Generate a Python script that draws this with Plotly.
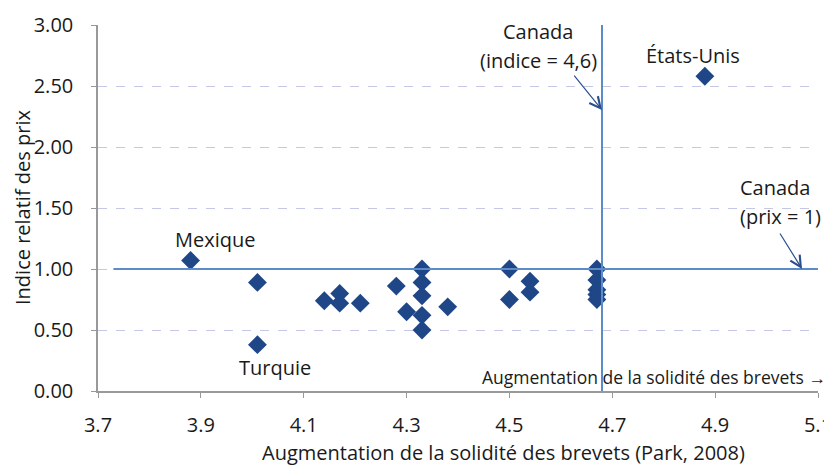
import plotly.graph_objects as go

# Data: patent strength (Park, 2008) vs relative price index
patent_strength = [3.88, 4.01, 4.01, 4.14, 4.17, 4.17, 4.21, 4.28, 4.30,
                   4.33, 4.33, 4.33, 4.33, 4.33, 4.38,
                   4.50, 4.50, 4.54, 4.54,
                   4.67, 4.67, 4.67, 4.67, 4.67, 4.88]
price_index = [1.07, 0.89, 0.38, 0.74, 0.80, 0.72, 0.72, 0.86, 0.65,
               1.00, 0.89, 0.78, 0.62, 0.50, 0.69,
               1.00, 0.75, 0.90, 0.81,
               1.00, 0.91, 0.83, 0.79, 0.75, 2.58]

canada_index = 4.68
canada_price = 1.0
x_ticks = [3.7, 3.9, 4.1, 4.3, 4.5, 4.7, 4.9, 5.1]
y_ticks = [0.0, 0.5, 1.0, 1.5, 2.0, 2.5, 3.0]
x_range = [3.7, 5.1]

FONT = "Open Sans"
TXT = "#1a1a1a"
LINE = "#5b8bc9"
MARK = "#1f4788"
AXC = "#999999"

# layout geometry (figure pixels)
W, H = 824, 460
L, R, T, B = 90, 14, 17, 57
PLOT_BOTTOM = 383          # y of the x axis line
AREA_H = H - T - B         # paper height
ydom0 = (H - B - PLOT_BOTTOM) / AREA_H

def py(fy):  # figure pixel y -> paper y
    return (H - B - fy) / AREA_H

def px(fx):  # figure pixel x -> paper x
    return (fx - L) / (W - L - R)

fig = go.Figure()
fig.add_trace(go.Scatter(
    x=patent_strength, y=price_index, mode="markers",
    marker=dict(symbol="diamond", size=14.5, color=MARK),
    showlegend=False, hoverinfo="x+y"))
# invisible trace carrying the label axis
fig.add_trace(go.Scatter(x=x_range, y=[0, 0], xaxis="x2", mode="markers",
                         marker=dict(opacity=0), showlegend=False, hoverinfo="skip"))

# Canada reference lines
fig.add_shape(type="line", x0=canada_index, x1=canada_index, y0=0, y1=3,
              line=dict(color=LINE, width=2))
fig.add_shape(type="line", x0=3.73, x1=5.1, y0=canada_price, y1=canada_price,
              line=dict(color=LINE, width=2))

ann = []
def txt(x, y, s, size=20, xanchor="center", ref="data", angle=0):
    d = dict(x=x, y=y, text=s, showarrow=False, xanchor=xanchor,
             yanchor="middle", textangle=angle,
             font=dict(family=FONT, size=size, color=TXT))
    if ref == "paper":
        d.update(xref="paper", yref="paper")
    ann.append(d)

txt(4.556, 2.943, "Canada")
txt(4.556, 2.713, "(indice = 4,6)")
txt(4.857, 2.754, "États-Unis")
txt(4.944, 1.672, "Canada", xanchor="left")
txt(4.944, 1.434, "(prix = 1)", xanchor="left")
txt(3.927, 1.238, "Mexique")
txt(4.044, 0.189, "Turquie")
txt(px(820), py(369), "Augmentation de la solidité des brevets →",
    size=17.5, xanchor="right", ref="paper")
txt(px(495), py(444), "Augmentation de la solidité des brevets (Park, 2008)", ref="paper")
txt(px(14), py(200), "Indice relatif des prix", ref="paper", angle=-90)

for hx, hy, axp, ayp in [(canada_index, 2.303, -29, -36), (5.069, canada_price, -23, -37)]:
    ann.append(dict(x=hx, y=hy, text="", showarrow=True, ax=axp, ay=ayp,
                    arrowhead=5, arrowsize=1.8, arrowwidth=1.2, arrowcolor="#2a4f8f"))

fig.update_layout(
    width=W, height=H,
    margin=dict(l=L, r=R, t=T, b=B, autoexpand=False),
    paper_bgcolor="white", plot_bgcolor="white",
    font=dict(family=FONT, size=20, color=TXT),
    annotations=ann,
    xaxis=dict(range=x_range, tickvals=x_ticks, anchor="y",
               showgrid=False, zeroline=False, showline=True, linecolor=AXC,
               linewidth=1.5, ticks="outside", ticklen=5, tickcolor=AXC,
               showticklabels=False),
    xaxis2=dict(range=x_range, tickvals=x_ticks, tickformat=".1f",
                anchor="free", position=0, overlaying="x", side="bottom",
                showgrid=False, zeroline=False, showline=False, ticks="",
                ticklabeloverflow="allow", tickfont=dict(size=20, color=TXT)),
    yaxis=dict(range=[0, 3], domain=[ydom0, 1], tickvals=y_ticks, tickformat=".2f",
               showgrid=True, gridcolor="#c4c8e6", griddash="dash", gridwidth=1,
               zeroline=False, showline=True, linecolor=AXC, linewidth=1.5,
               ticks="outside", ticklen=5, tickcolor=AXC,
               ticklabelstandoff=14, tickfont=dict(size=20, color=TXT)),
)

fig.write_html("out.html")
